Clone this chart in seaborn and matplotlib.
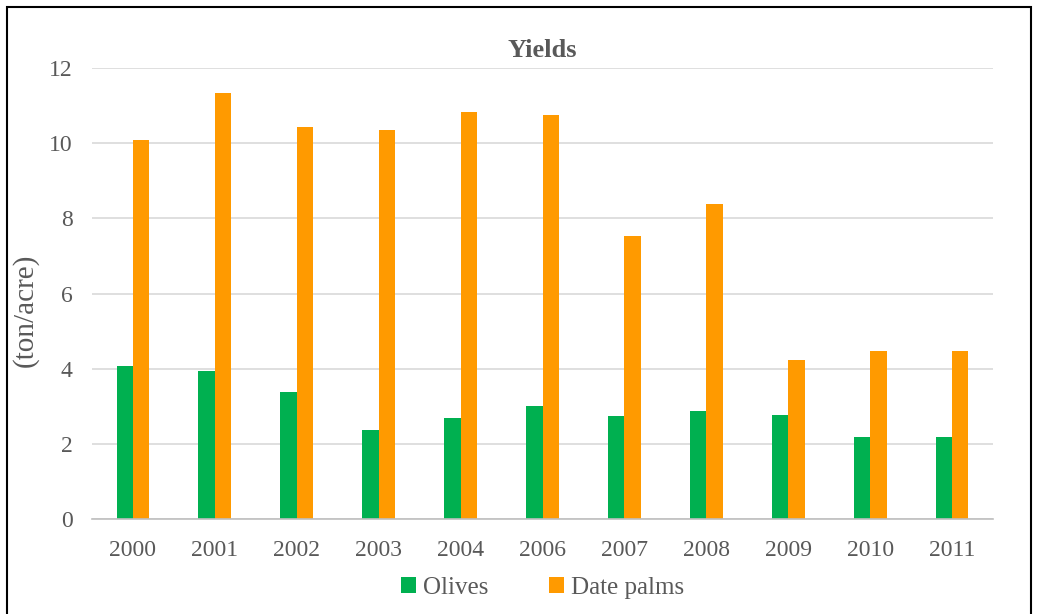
import matplotlib
matplotlib.use("Agg")
import matplotlib.pyplot as plt
import seaborn as sns
import pandas as pd
from matplotlib.patches import Rectangle

# Data
years = ["2000", "2001", "2002", "2003", "2004", "2006", "2007", "2008", "2009", "2010", "2011"]
olives = [4.07, 3.94, 3.37, 2.37, 2.69, 3.01, 2.74, 2.87, 2.78, 2.17, 2.19]
date_palms = [10.08, 11.34, 10.44, 10.34, 10.84, 10.76, 7.54, 8.37, 4.23, 4.47, 4.47]
series = ["Olives", "Date palms"]
colors = ["#00B050", "#FF9A00"]

df = pd.DataFrame({
    "year": years * 2,
    "value": olives + date_palms,
    "crop": [series[0]] * len(years) + [series[1]] * len(years),
})

sns.set_theme(style="white")
plt.rcParams["font.family"] = ["Liberation Serif", "DejaVu Serif"]
text_color = "#595959"

fig = plt.figure(figsize=(10.38, 6.14), dpi=100)
ax = fig.add_axes([92 / 1038, 1 - 519 / 614, (993 - 92) / 1038, (519 - 68) / 614])

sns.barplot(data=df, x="year", y="value", hue="crop", palette=colors,
            width=0.4, gap=0, ax=ax, saturation=1, errorbar=None, linewidth=0)

ax.set_ylim(0, 12)
ax.set_yticks(range(0, 13, 2))
ax.yaxis.grid(True, color="#D9D9D9", linewidth=1.2)
ax.set_axisbelow(True)
for side in ["top", "right", "left"]:
    ax.spines[side].set_visible(False)
ax.spines["bottom"].set_color("#BFBFBF")
ax.spines["bottom"].set_linewidth(1.2)
ax.tick_params(axis="both", length=0, labelsize=17, colors=text_color)
ax.tick_params(axis="x", pad=15)
ax.tick_params(axis="y", pad=14)
ax.set_xlabel("")
ax.set_ylabel("")
fig.text(25 / 1038, 1 - 310 / 614, "(ton/acre)", rotation=90, ha="center", va="center",
         fontsize=21, color=text_color)
ax.set_title("Yields", fontsize=19, fontweight="bold", color=text_color, pad=8)

handles, labels = ax.get_legend_handles_labels()
ax.legend(handles, labels, loc="center", bbox_to_anchor=(0.5, -0.153), ncol=2,
          frameon=False, fontsize=18, handlelength=0.6, handleheight=0.6,
          handletextpad=0.3, columnspacing=2.4, labelcolor=text_color)

# outer border of the chart
fig.patches.append(Rectangle((7 / 1038, -0.01), 1 - 14 / 1038, 1 - 7 / 614 + 0.01,
                             transform=fig.transFigure, fill=False,
                             edgecolor="black", linewidth=1.5))

fig.savefig("out.png", dpi=100)
